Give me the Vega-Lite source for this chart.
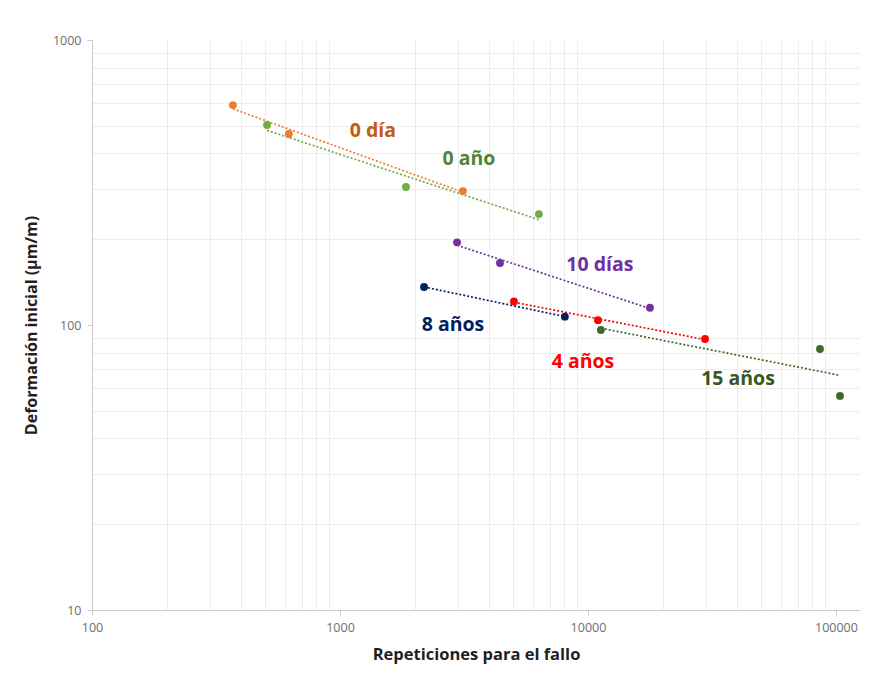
{
  "$schema": "https://vega.github.io/schema/vega-lite/v6.json",
  "width": 768,
  "height": 570,
  "autosize": "none",
  "padding": {"left": 92, "top": 40, "right": 11, "bottom": 64},
  "background": "white",
  "config": {"view": {"stroke": null}, "font": "Lato"},
  "datasets": {
    "pts": [
      {"series": "0 día", "x": 370, "y": 591},
      {"series": "0 día", "x": 622, "y": 468},
      {"series": "0 día", "x": 3133, "y": 295},
      {"series": "0 año", "x": 508, "y": 503},
      {"series": "0 año", "x": 1845, "y": 305},
      {"series": "0 año", "x": 6340, "y": 245},
      {"series": "10 días", "x": 2965, "y": 195},
      {"series": "10 días", "x": 4417, "y": 165},
      {"series": "10 días", "x": 17780, "y": 115},
      {"series": "8 años", "x": 2183, "y": 136},
      {"series": "8 años", "x": 8070, "y": 107},
      {"series": "4 años", "x": 5030, "y": 121},
      {"series": "4 años", "x": 10970, "y": 104},
      {"series": "4 años", "x": 29650, "y": 89.3},
      {"series": "15 años", "x": 11270, "y": 96},
      {"series": "15 años", "x": 86200, "y": 82.4},
      {"series": "15 años", "x": 103800, "y": 56.4}
    ],
    "labels": [
      {"series": "0 día", "x": 1358, "y": 480},
      {"series": "0 año", "x": 3311, "y": 382},
      {"series": "10 días", "x": 11170, "y": 162},
      {"series": "8 años", "x": 2855, "y": 100},
      {"series": "4 años", "x": 9550, "y": 74.1},
      {"series": "15 años", "x": 40270, "y": 64.6}
    ]
  },
  "layer": [
    {
      "data": {"name": "pts"},
      "transform": [{"regression": "y", "on": "x", "groupby": ["series"], "method": "pow"}],
      "mark": {"type": "line", "strokeDash": [2, 2], "strokeWidth": 1.7},
      "encoding": {
        "x": {"field": "x", "type": "quantitative", "scale": {"type": "log", "domain": [100, 125000], "nice": false},
          "axis": {"orient": "top", "values": [200,300,400,500,600,700,800,900,2000,3000,4000,5000,6000,7000,8000,9000,20000,30000,40000,50000,60000,70000,80000,90000], "labels": false, "ticks": false, "domain": false, "title": null, "gridColor": "#ECECEC", "gridWidth": 1}},
        "y": {"field": "y", "type": "quantitative", "scale": {"type": "log", "domain": [10, 1000], "nice": false},
          "axis": {"orient": "right", "values": [20,30,40,50,60,70,80,90,200,300,400,500,600,700,800,900], "labels": false, "ticks": false, "domain": false, "title": null, "gridColor": "#ECECEC", "gridWidth": 1}},
        "color": {"field": "series", "type": "nominal", "legend": null,
          "scale": {"domain": ["0 día", "0 año", "10 días", "8 años", "4 años", "15 años"], "range": ["#ED7D31", "#70AD47", "#7030A0", "#002060", "#FF0000", "#3B6C29"]}}
      }
    },
    {
      "data": {"name": "pts"},
      "mark": {"type": "circle", "size": 62, "opacity": 1},
      "encoding": {
        "x": {"field": "x", "type": "quantitative",
          "axis": {"orient": "bottom", "values": [100, 1000, 10000, 100000], "format": "d", "title": "Repeticiones para el fallo", "titleFont": "Open Sans", "titleFontSize": 16.5, "titleFontWeight": "bold", "titleColor": "#1F1F1F", "titlePadding": 13, "labelFont": "Open Sans", "labelFontSize": 12.5, "labelColor": "#6E6E6E", "labelPadding": 6, "tickSize": 5, "tickColor": "#C8C8C8", "domainColor": "#C8C8C8", "gridColor": "#D4D4D4", "labelFlush": false}},
        "y": {"field": "y", "type": "quantitative",
          "axis": {"orient": "left", "values": [10, 100, 1000], "format": "d", "title": "Deformación inicial (µm/m)", "titleFont": "Open Sans", "titleFontSize": 16, "titleFontWeight": "bold", "titleColor": "#1F1F1F", "titlePadding": 13, "labelFont": "Open Sans", "labelFontSize": 12.5, "labelColor": "#6E6E6E", "labelPadding": 6, "tickSize": 5, "tickColor": "#C8C8C8", "domainColor": "#C8C8C8", "gridColor": "#D4D4D4", "labelFlush": false}},
        "color": {"field": "series", "type": "nominal", "legend": null}
      }
    },
    {
      "data": {"name": "labels"},
      "mark": {"type": "text", "font": "Open Sans", "fontSize": 19.5, "fontWeight": "bold", "align": "center", "baseline": "middle"},
      "encoding": {
        "x": {"field": "x", "type": "quantitative", "axis": null},
        "y": {"field": "y", "type": "quantitative", "axis": null},
        "text": {"field": "series"},
        "color": {
          "condition": [
            {"test": "datum.series === '0 día'", "value": "#C55A11"},
            {"test": "datum.series === '0 año'", "value": "#548235"},
            {"test": "datum.series === '10 días'", "value": "#7030A0"},
            {"test": "datum.series === '8 años'", "value": "#002060"},
            {"test": "datum.series === '4 años'", "value": "#FF0000"}
          ],
          "value": "#375623"
        }
      }
    }
  ],
  "resolve": {"axis": {"x": "independent", "y": "independent"}}
}
